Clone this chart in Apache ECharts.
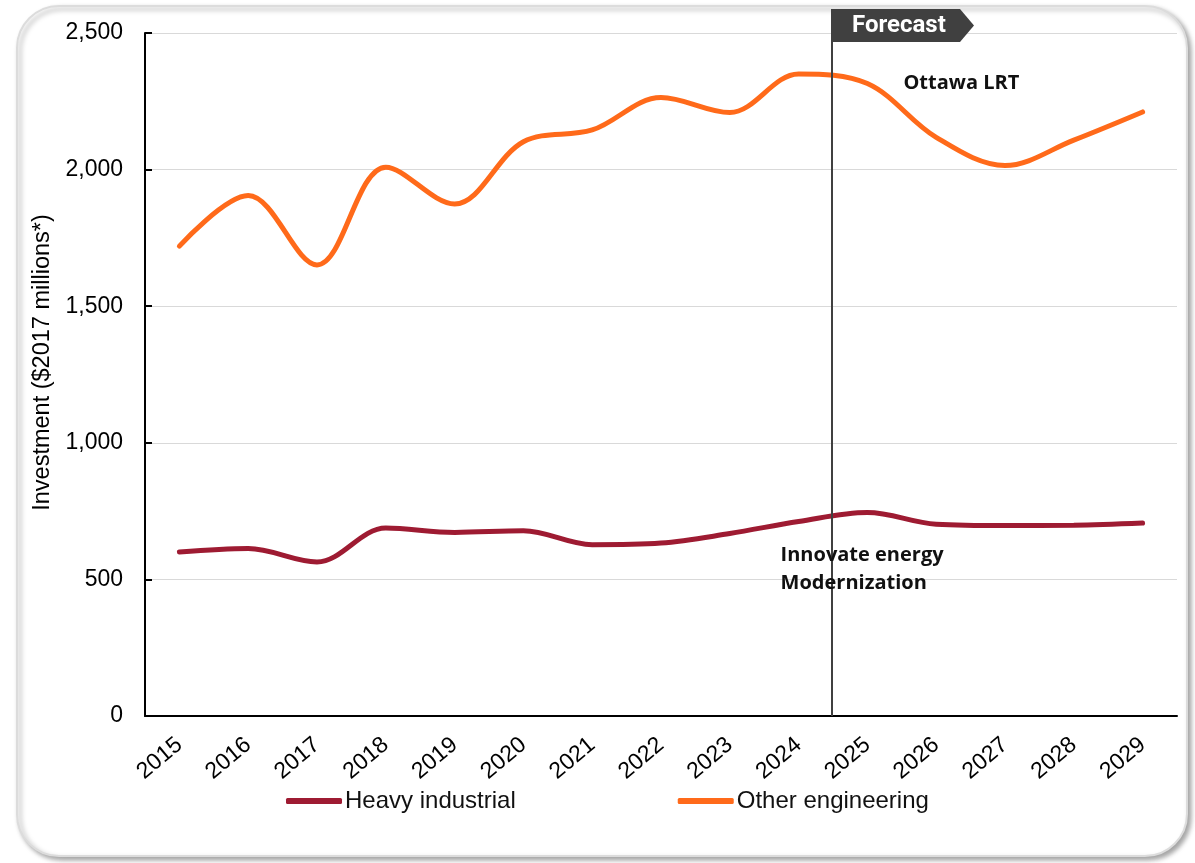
<!DOCTYPE html>
<html>
<head>
<meta charset="utf-8">
<script src="https://cdn.jsdelivr.net/npm/echarts@6/dist/echarts.min.js"></script>
<style>
  html, body { margin: 0; padding: 0; background: #ffffff; }
  #chart { width: 1195px; height: 863px; }
</style>
</head>
<body>
<div id="chart"></div>
<script>
// Construction investment outlook, $2017 millions
const years = ['2015','2016','2017','2018','2019','2020','2021','2022','2023','2024','2025','2026','2027','2028','2029'];
const heavyIndustrial = [600, 613, 564, 688, 672, 678, 627, 633, 668, 712, 745, 702, 697, 698, 706];
const otherEngineering = [1720, 1905, 1651, 2009, 1874, 2102, 2145, 2264, 2209, 2350, 2315, 2118, 2015, 2108, 2211];
const yTicks = { min: 0, max: 2500, step: 500 };
const forecastStart = ['2024', '2025'];   // forecast begins between these years
const notes = [
  { text: 'Ottawa LRT', year: '2025', value: 2317, dx: 36 },
  { text: 'Innovate energy\nModernization', year: '2024', value: 537, dx: -18 }
];

const chart = echarts.init(document.getElementById('chart'), null, { renderer: 'canvas' });
const FONT = '"Liberation Sans", Arial, sans-serif';

const option = {
  backgroundColor: '#ffffff',
  animation: false,
  grid: { left: 145, right: 18, top: 33, bottom: 147, containLabel: false },
  legend: {
    left: 281, top: 784,
    itemWidth: 56, itemHeight: 6, itemGap: 162,
    icon: 'roundRect',
    textStyle: { fontFamily: FONT, fontSize: 24, color: '#111', padding: [0, 0, 0, -2] },
    data: ['Heavy industrial', 'Other engineering']
  },
  xAxis: {
    type: 'category',
    data: years,
    boundaryGap: true,
    axisLine: { lineStyle: { color: '#000', width: 2 } },
    axisTick: { inside: true, length: 7, lineStyle: { color: '#000', width: 2 } },
    axisLabel: { rotate: 40, margin: 26, fontFamily: FONT, fontSize: 23, color: '#000' },
    splitLine: { show: false }
  },
  yAxis: {
    type: 'value',
    min: yTicks.min, max: yTicks.max, interval: yTicks.step,
    name: 'Investment ($2017 millions*)',
    nameLocation: 'middle',
    nameGap: 86,
    nameTextStyle: { fontFamily: FONT, fontSize: 23.5, color: '#000', padding: [0, 0, 0, 24] },
    axisLine: { show: true, lineStyle: { color: '#000', width: 2 } },
    axisTick: { show: true, inside: true, length: 7, lineStyle: { color: '#000', width: 2 } },
    axisLabel: {
      margin: 22, fontFamily: FONT, fontSize: 23, color: '#000',
      formatter: v => v.toLocaleString('en-US')
    },
    splitLine: { show: true, lineStyle: { color: '#d9d9d9', width: 1 } }
  },
  series: [
    {
      name: 'Heavy industrial',
      type: 'line',
      data: heavyIndustrial,
      smooth: 0.35,
      symbol: 'none',
      lineStyle: { color: '#9e1b32', width: 5, cap: 'round' },
      itemStyle: { color: '#9e1b32' },
      z: 3
    },
    {
      name: 'Other engineering',
      type: 'line',
      data: otherEngineering,
      smooth: 0.35,
      symbol: 'none',
      lineStyle: { color: '#ff6a1a', width: 5, cap: 'round' },
      itemStyle: { color: '#ff6a1a' },
      z: 3
    }
  ]
};
chart.setOption(option);

// Forecast divider, tag and text notes, placed through the chart's own scales
function placeOverlays() {
  const xa = chart.convertToPixel({ xAxisIndex: 0 }, forecastStart[0]);
  const xb = chart.convertToPixel({ xAxisIndex: 0 }, forecastStart[1]);
  const xf = Math.round((xa + xb) / 2) - 1;
  const yBottom = chart.convertToPixel({ yAxisIndex: 0 }, yTicks.min);
  const yTop = chart.convertToPixel({ yAxisIndex: 0 }, yTicks.max);
  const tagTop = yTop - 24, tagBottom = yTop + 9, tagMid = (tagTop + tagBottom) / 2;

  const elements = [
    {
      type: 'rect', silent: true, z: -10,
      shape: { x: 17, y: 6, width: 1170, height: 850, r: 42 },
      style: {
        fill: '#ffffff', stroke: '#dcdcdc', lineWidth: 2,
        shadowColor: 'rgba(0,0,0,0.35)', shadowBlur: 5, shadowOffsetX: 3, shadowOffsetY: 3
      }
    },
    {
      type: 'line', silent: true, z: 10,
      shape: { x1: xf, y1: tagTop, x2: xf, y2: yBottom },
      style: { stroke: '#404040', lineWidth: 2 }
    },
    {
      type: 'polygon', silent: true, z: 11,
      shape: { points: [[xf - 1, tagTop], [xf + 128, tagTop], [xf + 142, tagMid], [xf + 128, tagBottom], [xf - 1, tagBottom]] },
      style: { fill: '#404040' }
    },
    {
      type: 'text', silent: true, z: 12,
      x: xf + 20, y: tagMid,
      style: {
        text: 'Forecast', fill: '#ffffff',
        font: 'bold 24px "Liberation Sans Narrow", "Roboto", sans-serif',
        verticalAlign: 'middle', align: 'left'
      }
    }
  ];

  notes.forEach(n => {
    const p = chart.convertToPixel({ xAxisIndex: 0, yAxisIndex: 0 }, [n.year, n.value]);
    elements.push({
      type: 'text', silent: true, z: 12,
      x: p[0] + n.dx, y: p[1],
      style: {
        text: n.text, fill: '#111',
        font: 'bold 20px "Open Sans", "Noto Sans", sans-serif',
        lineHeight: 28, verticalAlign: 'middle', align: 'left'
      }
    });
  });

  chart.setOption({ graphic: { elements } });
}
placeOverlays();
</script>
</body>
</html>
